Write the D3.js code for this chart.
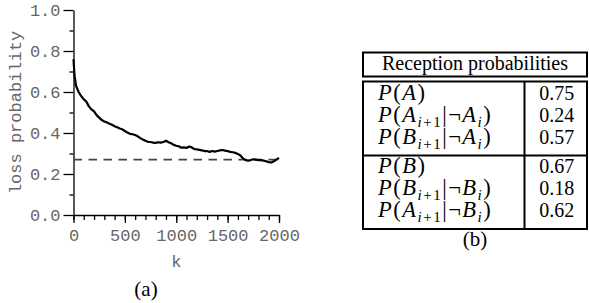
<!DOCTYPE html>
<html>
<head>
<meta charset="utf-8">
<script src="https://cdn.jsdelivr.net/npm/d3@7"></script>
<style>
  html, body { margin: 0; padding: 0; background: #fff; }
  svg { display: block; }
</style>
</head>
<body>
<svg id="chart" width="589" height="303"></svg>
<script>
// (a) loss probability vs k
const kValues = [
  0, 10, 25, 50, 75, 100, 125, 150, 175, 200, 225, 250, 275, 300, 325, 350, 375, 400,
  425, 450, 475, 500, 525, 550, 575, 600, 625, 650, 675, 700, 725, 750, 775, 800,
  825, 850, 875, 900, 925, 950, 975, 1000, 1025, 1050, 1075, 1100, 1125, 1150, 1175,
  1200, 1225, 1250, 1275, 1300, 1325, 1350, 1375, 1400, 1425, 1450, 1475, 1500, 1525,
  1550, 1575, 1600, 1625, 1650, 1675, 1700, 1725, 1750, 1775, 1800, 1825, 1850, 1875,
  1900, 1925, 1950, 1975, 2000
];
const lossValues = [
  0.760, 0.680, 0.630, 0.600, 0.580, 0.565, 0.553, 0.530, 0.515, 0.505, 0.487, 0.475,
  0.463, 0.456, 0.452, 0.445, 0.440, 0.433, 0.428, 0.422, 0.418, 0.410, 0.402, 0.396,
  0.394, 0.390, 0.384, 0.375, 0.368, 0.362, 0.357, 0.356, 0.353, 0.352, 0.355, 0.353,
  0.356, 0.362, 0.355, 0.350, 0.342, 0.338, 0.335, 0.328, 0.330, 0.327, 0.334, 0.330,
  0.322, 0.320, 0.318, 0.315, 0.312, 0.312, 0.308, 0.312, 0.309, 0.312, 0.315, 0.317,
  0.314, 0.312, 0.308, 0.306, 0.303, 0.298, 0.290, 0.276, 0.268, 0.265, 0.268, 0.272,
  0.270, 0.268, 0.268, 0.265, 0.262, 0.258, 0.256, 0.262, 0.270, 0.279
];
const refLoss = 0.27;

const xMajorTicks = [0, 500, 1000, 1500, 2000];
const xMinorTicks = d3.range(0, 2001, 100);
const yMajorTicks = [0, 0.2, 0.4, 0.6, 0.8, 1.0];
const yMinorTicks = [0.1, 0.3, 0.5, 0.7, 0.9];

// (b) reception probabilities table
const tableTitle = 'Reception probabilities';
const groupA = ['P(A)', 'P(A_{i+1}|¬A_i)', 'P(B_{i+1}|¬A_i)'];
const groupAValues = ['0.75', '0.24', '0.57'];
const groupB = ['P(B)', 'P(B_{i+1}|¬B_i)', 'P(A_{i+1}|¬B_i)'];
const groupBValues = ['0.67', '0.18', '0.62'];

const svg = d3.select('#chart');

const mono = '"Liberation Mono", "DejaVu Sans Mono", monospace';
const serif = '"Liberation Serif", "Times New Roman", serif';
const monoGrey = '#666';

// ---- plot (a)
const x = d3.scaleLinear().domain([0, 2000]).range([73.5, 279]);
const y = d3.scaleLinear().domain([0, 1]).range([215, 10]);

const g = svg.append('g');

// minor ticks first, no domain line
g.append('g')
  .attr('transform', `translate(0, ${y(0)})`)
  .call(d3.axisBottom(x).tickValues(xMinorTicks).tickSize(5).tickFormat(''))
  .call((a) => a.select('.domain').remove());

g.append('g')
  .attr('transform', `translate(${x(0)}, 0)`)
  .call(d3.axisLeft(y).tickValues(yMinorTicks).tickSize(4).tickFormat(''))
  .call((a) => a.select('.domain').remove());

const xAxis = g.append('g')
  .attr('transform', `translate(0, ${y(0)})`)
  .call(d3.axisBottom(x).tickValues(xMajorTicks).tickSize(8).tickSizeOuter(0).tickPadding(6)
    .tickFormat(d3.format('d')));

const yAxis = g.append('g')
  .attr('transform', `translate(${x(0)}, 0)`)
  .call(d3.axisLeft(y).tickValues(yMajorTicks).tickSize(10).tickSizeOuter(0).tickPadding(3)
    .tickFormat(d3.format('.1f')));

g.selectAll('.tick line, .domain')
  .attr('stroke', '#000')
  .attr('stroke-width', 1.3);

[xAxis, yAxis].forEach((a) => {
  a.selectAll('text')
    .attr('font-family', mono)
    .attr('font-size', 17)
    .attr('fill', monoGrey);
});

// dashed reference
g.append('line')
  .attr('x1', x(0))
  .attr('x2', x(2000))
  .attr('y1', y(refLoss))
  .attr('y2', y(refLoss))
  .attr('stroke', '#444')
  .attr('stroke-width', 1.6)
  .attr('stroke-dasharray', '8.5,6.5');

const line = d3.line()
  .x((d, i) => x(kValues[i]))
  .y((d) => y(d));

g.append('path')
  .datum(lossValues)
  .attr('d', line)
  .attr('fill', 'none')
  .attr('stroke', '#000')
  .attr('stroke-width', 2.2)
  .attr('stroke-linejoin', 'round');

// axis titles
g.append('text')
  .attr('x', x(1000))
  .attr('y', 267)
  .attr('text-anchor', 'middle')
  .attr('font-family', mono)
  .attr('font-size', 17)
  .attr('fill', monoGrey)
  .text('k');

g.append('text')
  .attr('transform', `translate(21, ${(y(0) + y(1)) / 2}) rotate(-90)`)
  .attr('text-anchor', 'middle')
  .attr('font-family', mono)
  .attr('font-size', 17)
  .attr('fill', monoGrey)
  .text('loss probability');

g.append('text')
  .attr('x', 146)
  .attr('y', 296)
  .attr('text-anchor', 'middle')
  .attr('font-family', serif)
  .attr('font-size', 21)
  .text('(a)');

// ---- table (b)
const tb = svg.append('g');
const left = 363;
const right = 587;
const split = 524.5;

tb.append('rect')
  .attr('x', left).attr('y', 52.5)
  .attr('width', right - left).attr('height', 24)
  .attr('fill', 'none').attr('stroke', '#000').attr('stroke-width', 2);
tb.append('rect')
  .attr('x', left).attr('y', 81.5)
  .attr('width', right - left).attr('height', 147.5)
  .attr('fill', 'none').attr('stroke', '#000').attr('stroke-width', 2);

tb.append('line')
  .attr('x1', left).attr('x2', right)
  .attr('y1', 155.5).attr('y2', 155.5)
  .attr('stroke', '#000').attr('stroke-width', 2);
tb.append('line')
  .attr('x1', split).attr('x2', split)
  .attr('y1', 81.5).attr('y2', 229)
  .attr('stroke', '#000').attr('stroke-width', 2);

tb.append('text')
  .attr('x', (left + right) / 2)
  .attr('y', 70)
  .attr('text-anchor', 'middle')
  .attr('font-family', serif)
  .attr('font-size', 20)
  .text(tableTitle);

// tiny TeX-ish label: letters italic, _{...} subscript; runs of same style share a tspan
function mathLabel(sel, src) {
  const runs = [];
  const push = (ch, sub) => {
    const it = /[A-Za-z]/.test(ch);
    const last = runs[runs.length - 1];
    if (last && last.it === it && last.sub === sub) last.s += ch;
    else runs.push({ s: ch, it, sub });
  };
  let i = 0;
  while (i < src.length) {
    const ch = src[i];
    if (ch === '_') {
      i++;
      let grp;
      if (src[i] === '{') {
        const end = src.indexOf('}', i);
        grp = src.slice(i + 1, end);
        i = end + 1;
      } else {
        grp = src[i];
        i++;
      }
      for (const c of grp) push(c, true);
    } else {
      push(ch, false);
      i++;
    }
  }
  let shifted = false;
  runs.forEach((r) => {
    const t = sel.append('tspan')
      .attr('font-style', r.it ? 'italic' : 'normal')
      .attr('font-size', r.sub ? 15 : 22.5)
      .text(r.s);
    if (r.sub && !shifted) { t.attr('dy', 5); shifted = true; }
    if (!r.sub && shifted) { t.attr('dy', -5); shifted = false; }
  });
}

const rowBase = [100, 122, 144, 173, 195, 217];
const labels = groupA.concat(groupB);
const values = groupAValues.concat(groupBValues);

labels.forEach((lab, i) => {
  const t = tb.append('text')
    .attr('x', 378)
    .attr('y', rowBase[i])
    .attr('font-family', serif)
    .attr('letter-spacing', 1.5);
  mathLabel(t, lab);

  tb.append('text')
    .attr('x', (split + right) / 2 + 1)
    .attr('y', rowBase[i])
    .attr('text-anchor', 'middle')
    .attr('font-family', serif)
    .attr('font-size', 20)
    .text(values[i]);
});

tb.append('text')
  .attr('x', (left + right) / 2)
  .attr('y', 246)
  .attr('text-anchor', 'middle')
  .attr('font-family', serif)
  .attr('font-size', 21)
  .text('(b)');
</script>
</body>
</html>
